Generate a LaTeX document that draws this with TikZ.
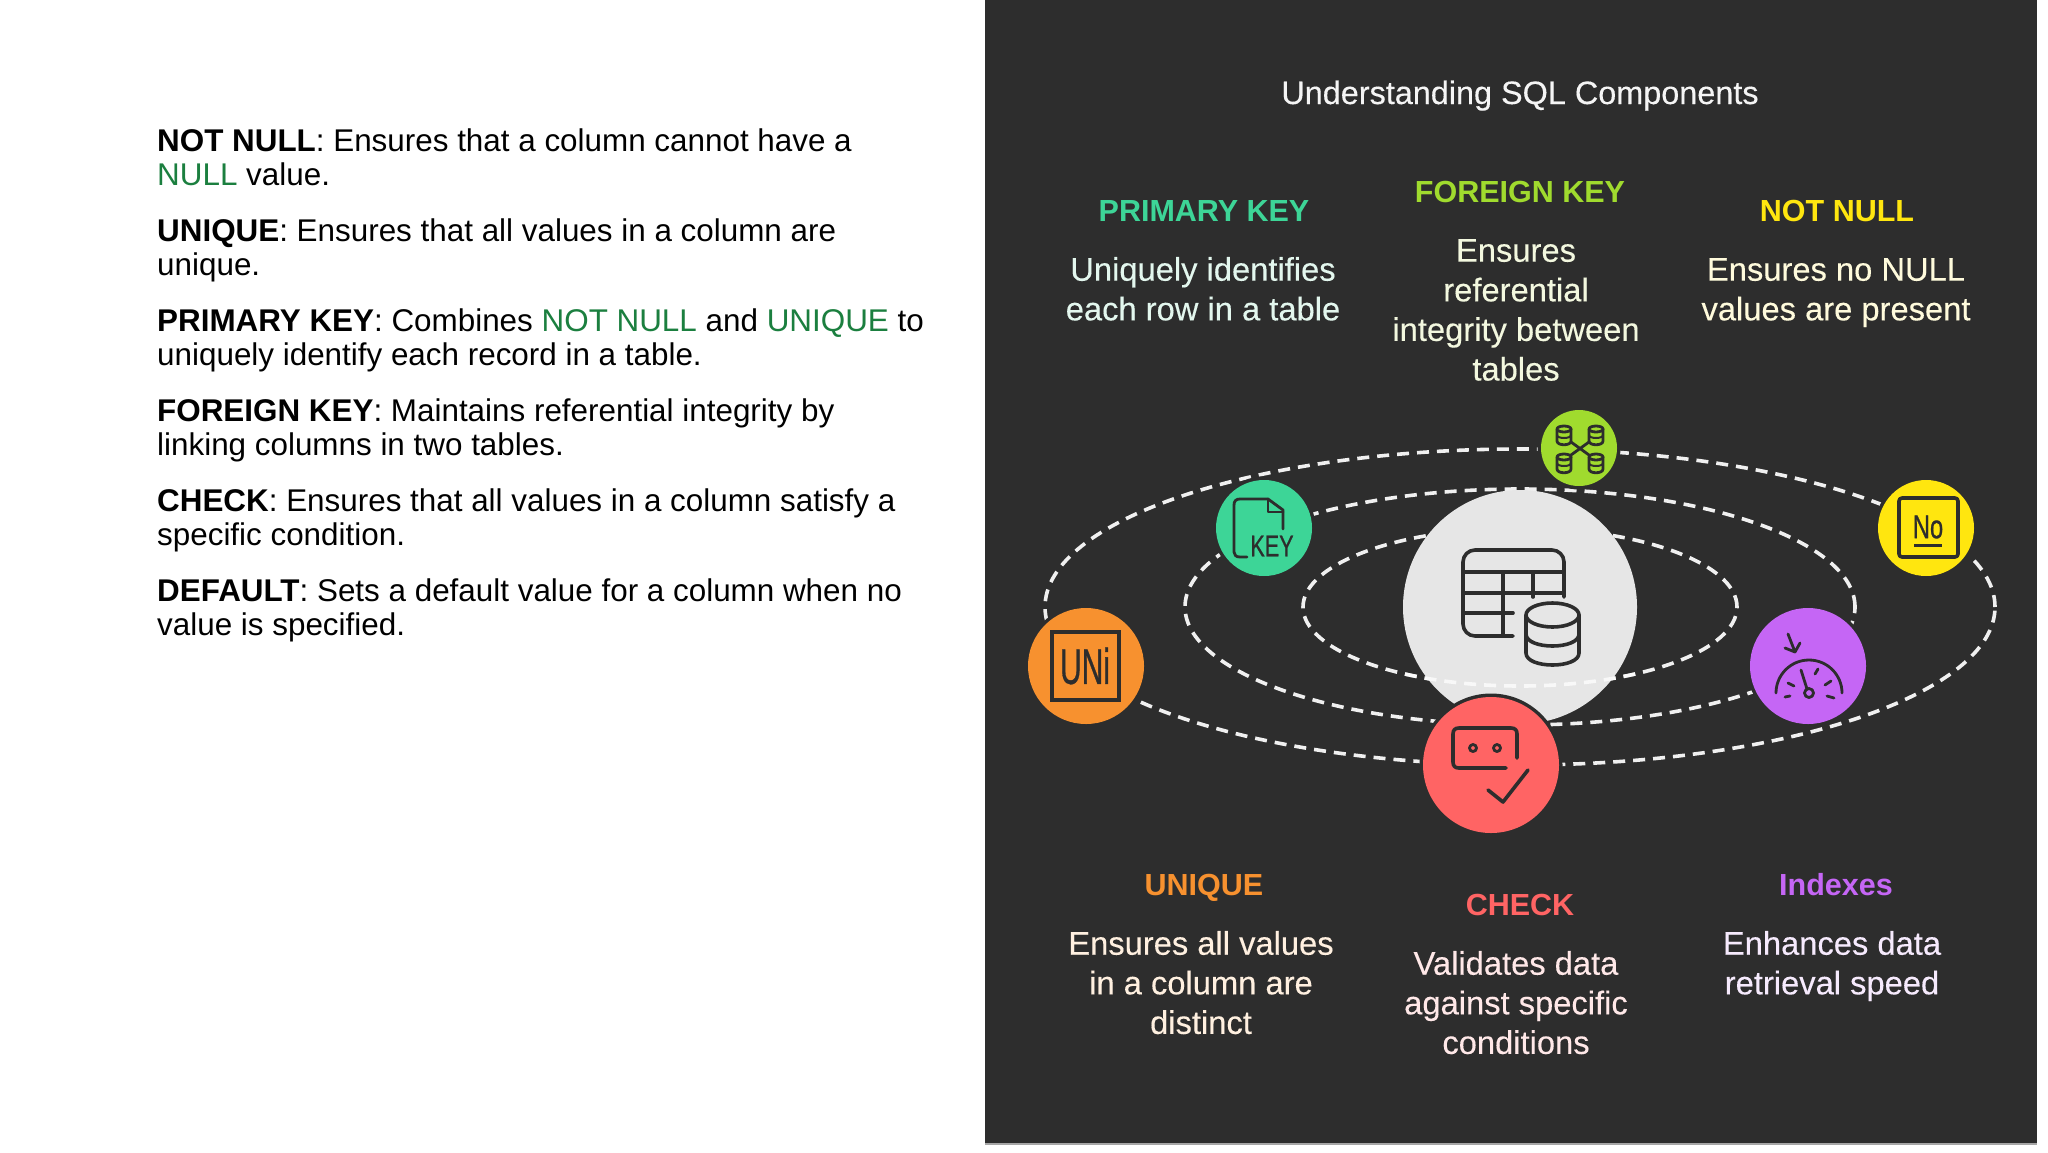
\documentclass[tikz,border=0pt]{standalone}
\usepackage{fontspec}
\setmainfont{Liberation Sans}
\newfontfamily\heavyfont[FakeBold=0.25]{Liberation Sans}
\newfontfamily\glyphfont[FakeBold=0.9]{Liberation Sans}
\definecolor{panel}{HTML}{2D2D2D}
\definecolor{dashc}{HTML}{F0F0F0}
\definecolor{ink}{HTML}{2D2D2D}
\definecolor{gkey}{HTML}{3DD597}
\definecolor{gorange}{HTML}{F7912F}
\definecolor{gred}{HTML}{FF6464}
\definecolor{glime}{HTML}{A0DB2E}
\definecolor{gyellow}{HTML}{FFE60F}
\definecolor{gpurple}{HTML}{C566F5}
\definecolor{gdisc}{HTML}{E6E6E6}
\definecolor{lgreen}{HTML}{1B7F3F}
\definecolor{titlec}{HTML}{F5F5F5}
\definecolor{bkey}{HTML}{E3F7EE}
\definecolor{blime}{HTML}{F3F8DF}
\definecolor{byel}{HTML}{FFFBDC}
\definecolor{bora}{HTML}{FFF0E0}
\definecolor{bred}{HTML}{FFE8E8}
\definecolor{bpur}{HTML}{F6EAFD}
\tikzset{
  x=1pt,y=-1pt,
  orbit/.style={draw=dashc,line width=3.6pt,dash pattern=on 12pt off 8pt},
  disc/.style 2 args={circle,inner sep=0pt,minimum size=#2,fill=#1,preaction={draw=panel,line width=7pt}},
  icon/.style={draw=ink,line width=3.6pt,line cap=round,line join=round},
  thin icon/.style={draw=ink,line width=2.8pt,line cap=round,line join=round},
  para/.style={anchor=north west,inner sep=0pt,align=left,font=\fontsize{31.4}{34}\selectfont,text=black},
  head/.style={anchor=base,inner sep=0pt,font=\bfseries\fontsize{30.5}{36}\selectfont},
  body/.style={anchor=north,inner sep=0pt,align=center,font=\heavyfont\fontsize{32.7}{39.6}\selectfont},
  glyph/.style={inner sep=0pt,text=ink},
}
\newcommand{\tp}{\rule{0pt}{25pt}}
\newcommand{\gr}[1]{\textcolor{lgreen}{#1}}
\begin{document}
\begin{tikzpicture}
\useasboundingbox (0,0) rectangle (2048,1152);
\fill[white] (0,0) rectangle (2048,1152);
\fill[panel] (985,0) rectangle (2037,1143);
\fill[black!35] (985,1143) rectangle (2037,1145);
% left text
\node[para] (p1) at (157,126.5) {\tp\textbf{NOT NULL}: Ensures that a column cannot have a\\\gr{NULL} value.};
\node[para] (p2) at (157,216.5) {\tp\textbf{UNIQUE}: Ensures that all values in a column are\\unique.};
\node[para] (p3) at (157,306.5) {\tp\textbf{PRIMARY KEY}: Combines \gr{NOT NULL} and \gr{UNIQUE} to\\uniquely identify each record in a table.};
\node[para] (p4) at (157,396.5) {\tp\textbf{FOREIGN KEY}: Maintains referential integrity by\\linking columns in two tables.};
\node[para] (p5) at (157,486.5) {\tp\textbf{CHECK}: Ensures that all values in a column satisfy a\\specific condition.};
\node[para] (p6) at (157,576.5) {\tp\textbf{DEFAULT}: Sets a default value for a column when no\\value is specified.};
% right text
\node[anchor=base,inner sep=0pt,text=titlec,font=\heavyfont\fontsize{32.4}{36}\selectfont] (title) at (1520,104) {Understanding SQL Components};
\node[head,text=gkey] (h1) at (1204,221.5) {PRIMARY KEY};
\node[body,text=bkey] (b1) at (1203,255.5) {\tp Uniquely identifies\\each row in a table};
\node[head,text=glime] (h2) at (1520,202.5) {FOREIGN KEY};
\node[body,text=blime] (b2) at (1516,236.5) {\tp Ensures\\referential\\integrity between\\tables};
\node[head,text=gyellow] (h3) at (1837,221.5) {NOT NULL};
\node[body,text=byel] (b3) at (1836,255.5) {\tp Ensures no NULL\\values are present};
\node[head,text=gorange] (h4) at (1204,895) {UNIQUE};
\node[body,text=bora] (b4) at (1201,929.5) {\tp Ensures all values\\in a column are\\distinct};
\node[head,text=gred] (h5) at (1520,915) {CHECK};
\node[body,text=bred] (b5) at (1516,949.5) {\tp Validates data\\against specific\\conditions};
\node[head,text=gpurple] (h6) at (1836,895) {Indexes};
\node[body,text=bpur] (b6) at (1832,929.5) {\tp Enhances data\\retrieval speed};
% orbits
\draw[orbit] (1520,607) ellipse [x radius=475pt,y radius=158pt];
\draw[orbit] (1520,607) ellipse [x radius=335pt,y radius=118pt];
\draw[orbit] (1520,607) ellipse [x radius=217pt,y radius=79pt];
% discs
\node[circle,inner sep=0pt,minimum size=234pt,fill=gdisc] (core) at (1520,607) {};
\begin{scope}
\clip (1403,607) rectangle (1637,720);
\draw[orbit,draw=white,opacity=.75] (1520,607) ellipse [x radius=217pt,y radius=79pt];
\end{scope}
\node[disc={gorange}{116pt}] (uni) at (1086,666) {};
\node[disc={gkey}{96pt}] (key) at (1264,528) {};
\node[disc={gred}{136pt}] (chk) at (1491,765) {};
\node[disc={glime}{76pt}] (fk) at (1579,448) {};
\node[disc={gyellow}{96pt}] (nn) at (1926,528) {};
\node[disc={gpurple}{116pt}] (idx) at (1808,666) {};
% table + cylinder icon
\draw[icon,rounded corners=12pt] (1564,597) -- (1564,550) -- (1463,550) -- (1463,636) -- (1513,636);
\draw[icon] (1463,572) -- (1564,572) (1463,593) -- (1564,593) (1463,613) -- (1513,613) (1503,572) -- (1503,636) (1533,572) -- (1533,597);
\draw[icon,fill=gdisc] (1526,615) -- (1526,653) .. controls (1526,669) and (1579,669) .. (1579,653) -- (1579,615);
\draw[icon,fill=gdisc] (1552.5,615) ellipse [x radius=26.5pt,y radius=12pt];
\draw[icon] (1526,634) .. controls (1526,650) and (1579,650) .. (1579,634);
% key icon
\draw[thin icon] (1283,529) -- (1283,510) -- (1268,499) -- (1240,499) .. controls (1236,499) and (1234,501) .. (1234,505) -- (1234,552) .. controls (1234,555) and (1236,557) .. (1240,557) -- (1247,557);
\draw[thin icon] (1268,499) -- (1268,512) -- (1283,512);
\node[glyph,font=\glyphfont\fontsize{30}{30}\selectfont] (keyt) at (1272,546) {\scalebox{.72}[1]{KEY}};
% uni icon
\draw[icon,line cap=butt,line join=miter] (1052,632) rectangle (1119,700);
\node[glyph,font=\glyphfont\fontsize{50}{50}\selectfont] (unit) at (1085,666) {\scalebox{.6}[1]{UNi}};
% check icon
\draw[icon] (1517,758) -- (1517,734) .. controls (1517,730) and (1515,728) .. (1511,728) -- (1459,728) .. controls (1455,728) and (1453,730) .. (1453,734) -- (1453,762) .. controls (1453,766) and (1455,768) .. (1459,768) -- (1506,768);
\draw[thin icon] (1473,748) circle [radius=3.5pt] (1497,748) circle [radius=3.5pt];
\draw[icon] (1488,790) -- (1503,802) -- (1528,770);
% fk icon
\draw[thin icon] (1571,442) -- (1589,455) (1589,442) -- (1571,455);
\foreach \cx/\cy in {1564/435,1596/435,1564/463,1596/463}{
  \draw[thin icon,fill=glime] (\cx-7,\cy-6) -- (\cx-7,\cy+6) .. controls (\cx-7,\cy+11) and (\cx+7,\cy+11) .. (\cx+7,\cy+6) -- (\cx+7,\cy-6);
  \draw[thin icon,fill=glime] (\cx,\cy-6) ellipse [x radius=7pt,y radius=3pt];
  \draw[draw=ink,line width=2pt] (\cx-7,\cy) .. controls (\cx-7,\cy+4) and (\cx+7,\cy+4) .. (\cx+7,\cy);
}
% no icon
\draw[icon,rounded corners=3pt] (1899,498) rectangle (1958,557);
\node[glyph,font=\glyphfont\fontsize{33}{33}\selectfont] (not) at (1928,527) {\scalebox{.72}[1]{No}};
\draw[icon,line width=3pt,line cap=butt] (1914,545) -- (1942,545);
% gauge icon
\draw[thin icon] (1776,693) arc[start angle=180,end angle=0,radius=33pt];
\draw[thin icon] (1801,670) -- (1807,689);
\draw[thin icon] (1809,693) circle [radius=4.5pt];
\draw[thin icon] (1788,683) -- (1794,686) (1785,697) -- (1790,696) (1815,674) -- (1818,669) (1825,685) -- (1831,681) (1827,696) -- (1834,698);
\draw[thin icon] (1788,634) -- (1795,652) (1785,648) -- (1795,652) -- (1800,643);
\end{tikzpicture}
\end{document}
